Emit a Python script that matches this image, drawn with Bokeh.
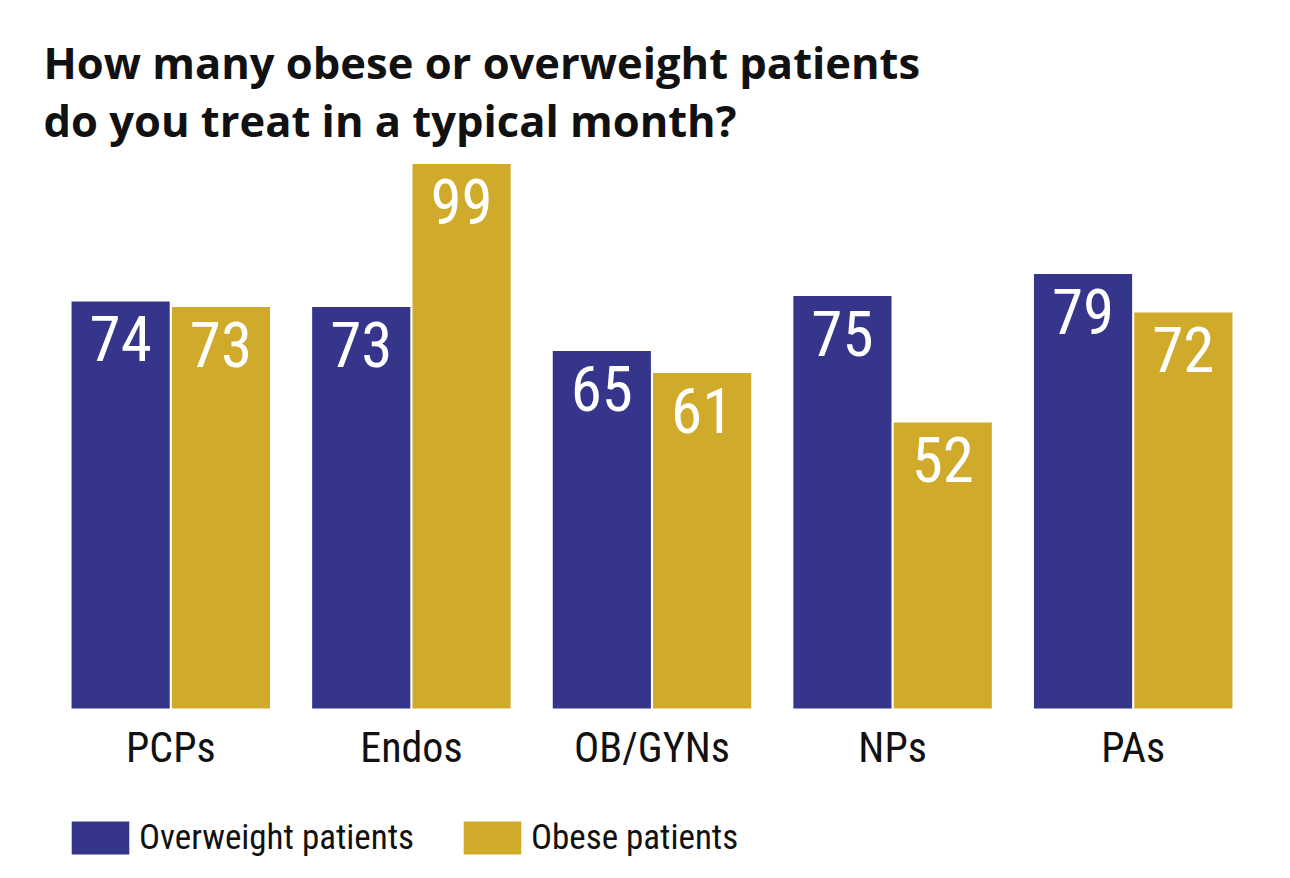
from bokeh.plotting import figure
from bokeh.models import ColumnDataSource, FactorRange, Range1d, Label, Legend, LegendItem
from bokeh.transform import dodge
from bokeh.core.properties import value
from bokeh.embed import file_html
from bokeh.resources import INLINE

categories = ["PCPs", "Endos", "OB/GYNs", "NPs", "PAs"]
overweight = [74, 73, 65, 75, 79]
obese = [73, 99, 61, 52, 72]
series_names = ["Overweight patients", "Obese patients"]
title_lines = ["How many obese or overweight patients", "do you treat in a typical month?"]

BLUE = "#35358C"
GOLD = "#D0AB2B"
COND = "Roboto Condensed"
TITLE_FONT = "Open Sans"

W, H = 1290, 878
BASE_PX = 708          # baseline position from the top of the canvas
PX_PER_UNIT = 5.5

src = ColumnDataSource(dict(
    cat=categories,
    ow=overweight,
    ob=obese,
    ow_txt=[str(v) for v in overweight],
    ob_txt=[str(v) for v in obese],
))

p = figure(
    width=W, height=H,
    x_range=FactorRange(*categories, range_padding=0.06152, range_padding_units="percent"),
    y_range=Range1d(-(H - BASE_PX) / PX_PER_UNIT, BASE_PX / PX_PER_UNIT),
    x_axis_location=None, y_axis_location=None,
    output_backend="svg", toolbar_location=None,
    min_border_left=13, min_border_right=0,
    min_border_top=0, min_border_bottom=0,
    outline_line_color=None,
)
p.xgrid.visible = False
p.ygrid.visible = False

off = 0.2085
bw = 0.408
r1 = p.vbar(x=dodge("cat", -off, range=p.x_range), top="ow", width=bw, source=src,
            fill_color=BLUE, line_color=None)
r2 = p.vbar(x=dodge("cat", off, range=p.x_range), top="ob", width=bw, source=src,
            fill_color=GOLD, line_color=None)

# value labels inside bars
for col, o in (("ow", -off), ("ob", off)):
    p.text(x=dodge("cat", o, range=p.x_range), y=col, text=col + "_txt", source=src,
           text_color="white", text_font=value(COND), text_font_size="63px",
           text_align="center", text_baseline="alphabetic", y_offset=37)

# category labels
p.text(x="cat", y=0, text="cat", source=src, text_color="#111111",
       text_font=value(COND), text_font_size="42px",
       text_align="center", text_baseline="alphabetic", y_offset=39)

# title
for line, base in zip(title_lines, (62, 120)):
    p.add_layout(Label(x=30, y=H - base, x_units="screen", y_units="screen",
                       text=line, text_font=TITLE_FONT, text_font_size="43.5px",
                       text_font_style="bold", text_color="#111111",
                       text_align="left", text_baseline="alphabetic"))

legend = Legend(items=[LegendItem(label=series_names[0], renderers=[r1]),
                       LegendItem(label=series_names[1], renderers=[r2])],
                orientation="horizontal", location=(51, 20),
                glyph_width=72, glyph_height=41, label_height=41,
                label_text_font=COND, label_text_color="#111111",
                label_text_font_size="35px", label_standoff=3, spacing=42,
                padding=0, margin=0, border_line_color=None,
                background_fill_alpha=0)
p.add_layout(legend, "center")

open("out.html", "w").write(file_html(p, INLINE))
